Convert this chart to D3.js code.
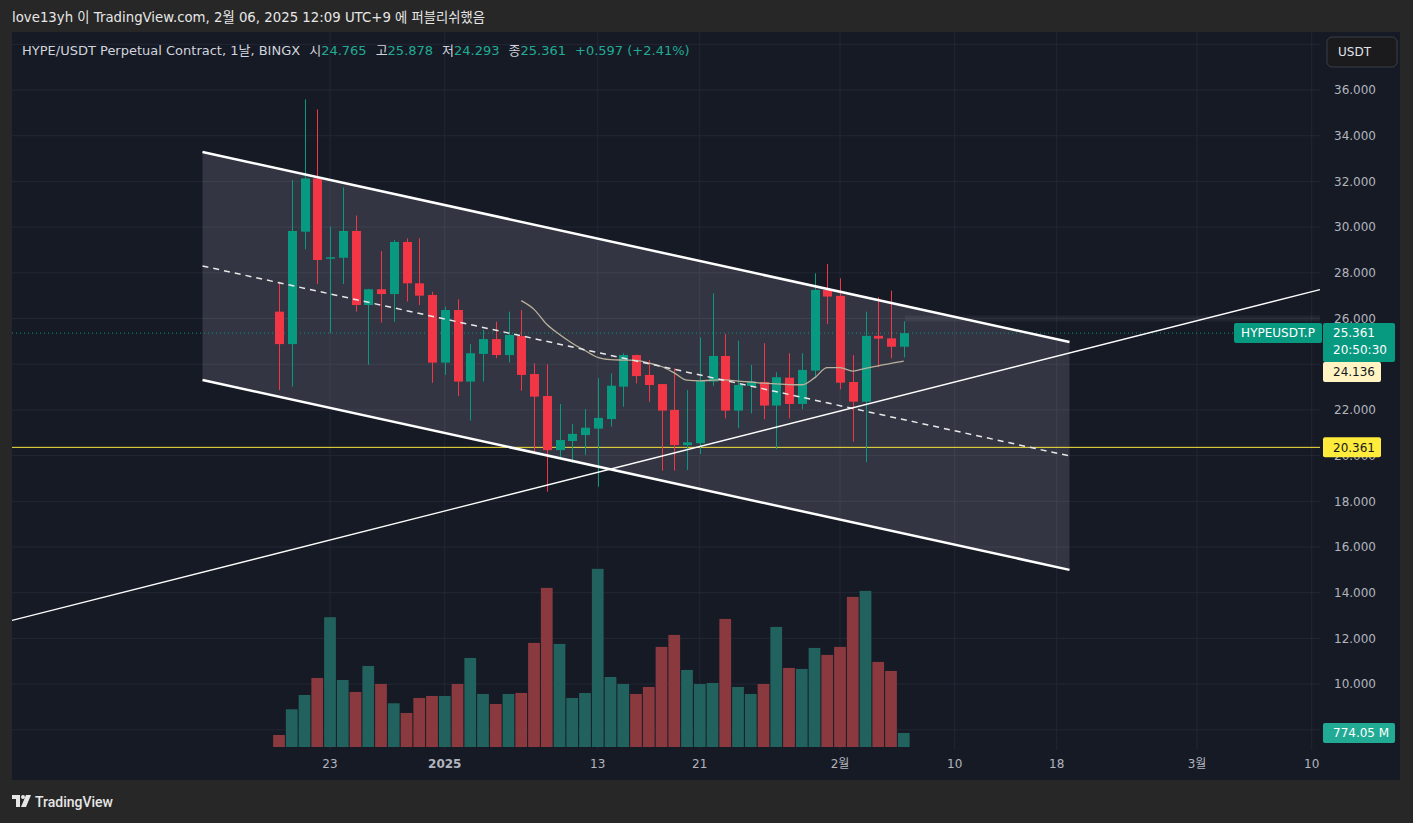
<!DOCTYPE html>
<html>
<head>
<meta charset="utf-8">
<script src="https://cdn.jsdelivr.net/npm/d3@7"></script>
<style>
  html, body { margin: 0; padding: 0; background: #272727; }
  svg { display: block; font-family: "DejaVu Sans", "Noto Sans CJK KR", sans-serif; }
</style>
</head>
<body>
<div id="chart"></div>
<script>
// daily candles, HYPE/USDT perp (BINGX)
const dates = ["2024-12-19","2024-12-20","2024-12-21","2024-12-22","2024-12-23","2024-12-24","2024-12-25","2024-12-26","2024-12-27","2024-12-28",
  "2024-12-29","2024-12-30","2024-12-31","2025-01-01","2025-01-02","2025-01-03","2025-01-04","2025-01-05","2025-01-06","2025-01-07",
  "2025-01-08","2025-01-09","2025-01-10","2025-01-11","2025-01-12","2025-01-13","2025-01-14","2025-01-15","2025-01-16","2025-01-17",
  "2025-01-18","2025-01-19","2025-01-20","2025-01-21","2025-01-22","2025-01-23","2025-01-24","2025-01-25","2025-01-26","2025-01-27",
  "2025-01-28","2025-01-29","2025-01-30","2025-01-31","2025-02-01","2025-02-02","2025-02-03","2025-02-04","2025-02-05","2025-02-06"];
const opens = [26.30,24.88,29.80,32.13,28.62,28.66,29.83,26.59,27.28,27.07, 29.35,27.54,27.03,24.07,26.37,23.24,24.45,25.10,24.40,25.23,
  23.57,22.61,20.24,20.64,20.90,21.18,21.60,23.02,24.40,23.53, 23.13,22.00,20.46,20.54,23.24,24.36,21.97,23.05,23.22,22.19,
  23.41,22.26,23.72,27.25,26.99,23.22,22.36,25.24,25.13,24.765];
const highs = [27.61,32.06,35.59,35.15,30.02,31.74,30.51,27.30,28.95,29.44, 29.51,29.51,27.17,26.52,26.84,24.88,25.50,25.86,26.30,26.37,
  24.04,23.99,22.26,21.38,22.04,23.38,23.60,24.48,24.42,24.18, 23.13,23.82,22.87,25.17,27.10,25.32,25.03,23.97,24.92,23.65,
  24.48,24.48,27.98,28.39,27.76,24.40,26.30,26.93,27.22,25.878];
const lows = [22.87,23.02,29.03,27.51,25.35,27.51,26.30,23.97,25.82,25.86, 26.74,26.59,23.19,23.53,22.61,21.53,23.24,24.26,24.07,22.84,
  20.17,18.42,19.88,19.69,20.03,18.64,21.27,22.14,23.16,22.36, 19.34,19.34,19.37,20.07,23.05,21.63,21.20,21.85,21.59,20.28,
  21.63,22.03,23.38,25.76,22.90,20.61,19.71,23.87,24.26,24.293];
const closes = [24.88,29.83,32.13,28.56,28.68,29.83,26.59,27.28,27.07,29.35, 27.54,27.00,24.07,26.37,23.24,24.48,25.10,24.40,25.28,23.53,
  22.58,20.24,20.68,20.95,21.22,21.65,23.06,24.40,23.48,23.09, 21.97,20.46,20.58,23.26,24.36,21.97,23.09,23.24,22.19,23.43,
  22.26,23.75,27.25,26.96,23.19,22.36,25.24,25.12,24.765,25.361];
// volume in millions
const volumes = [663,2084,2875,3815,7171,3704,3041,4478,3483,2416, 1880,2709,2820,2820,3483,4921,2930,2377,2930,2986,
  5750,8791,5695,2709,2986,9842,3870,3483,2930,3317, 5529,6192,4257,3483,3539,7077,3317,2930,3483,6635,
  4368,4313,5474,5087,5529,8294,8625,4700,4202,774.05];
// moving average line (from 2025-01-07)
const maStart = 19;
const maValues = [26.78,26.40,25.75,25.30,24.92,24.60,24.30,24.20,24.18,24.17, 24.05,23.90,23.62,23.30,23.27,23.30,23.31,23.26,23.22,23.17,
  23.14,23.11,23.10,23.40,23.85,23.85,23.70,23.82,23.93,24.04, 24.136];

// drawings: [date, price]
const channelUpper = [["2024-12-13", 33.29], ["2025-02-19", 24.97]];
const channelLower = [["2024-12-13", 23.31], ["2025-02-19", 15.00]];
const trendLine = [["2025-01-13", 19.27], ["2025-02-18", 24.35]];
const levelPrice = 20.361;
const lastPrice = 25.361;
const maLast = 24.136;
const lastVolumeLabel = "774.05 M";
const changeText = "+0.597 (+2.41%)";

const priceTicks = [8,10,12,14,16,18,20,22,24,26,28,30,32,34,36,38];
const tickDates = ["2024-12-23","2025-01-01","2025-01-13","2025-01-21","2025-02-01","2025-02-10","2025-02-18","2025-03-01","2025-03-10"];
const tickLabels = ["23","2025","13","21","2월","10","18","3월","10"];

const W = 1413, H = 823;
const plot = { left: 12, right: 1320, top: 32, bottom: 750 };
const volBottom = 747;

const parse = d3.utcParse("%Y-%m-%d");
const data = dates.map((d, i) => ({
  date: parse(d), o: opens[i], h: highs[i], l: lows[i], c: closes[i], v: volumes[i]
}));

const x = d3.scaleUtc()
  .domain([parse("2024-12-19"), parse("2025-02-06")])
  .range([279, 279 + 49 * 12.75]);
const dayW = 12.75;
const y = d3.scaleLinear().domain([10, 36]).range([684.1, 90]);
const yVol = d3.scaleLinear().domain([0, 10000]).range([volBottom, volBottom - 181]);

const up = "#089981", down = "#f23645";
const volUp = "#22625e", volDown = "#8a3a3f";

const svg = d3.select("#chart").append("svg")
  .attr("width", W).attr("height", H);

svg.append("rect").attr("width", W).attr("height", H).attr("fill", "#272727");

// header
svg.append("text")
  .attr("x", 12).attr("y", 22)
  .attr("fill", "#e6e6e6").style("font-size", "13.3px")
  .text("love13yh 이 TradingView.com, 2월 06, 2025 12:09 UTC+9 에 퍼블리쉬했음");

// chart panel
svg.append("rect")
  .attr("x", plot.left).attr("y", plot.top)
  .attr("width", 1400 - plot.left).attr("height", 780 - plot.top)
  .attr("fill", "#161a25");

svg.append("defs").append("clipPath").attr("id", "clip")
  .append("rect").attr("x", plot.left).attr("y", plot.top)
  .attr("width", plot.right - plot.left).attr("height", plot.bottom - plot.top);

const g = svg.append("g").attr("clip-path", "url(#clip)");

// grid
g.selectAll(".hgrid").data(priceTicks).join("line")
  .attr("x1", plot.left).attr("x2", plot.right)
  .attr("y1", d => y(d)).attr("y2", d => y(d))
  .attr("stroke", "#232734").attr("stroke-width", 1);
g.selectAll(".vgrid").data(tickDates).join("line")
  .attr("x1", d => x(parse(d))).attr("x2", d => x(parse(d)))
  .attr("y1", plot.top).attr("y2", plot.bottom)
  .attr("stroke", "#232734").attr("stroke-width", 1);

// volume bars
g.selectAll(".vol").data(data).join("rect")
  .attr("x", d => x(d.date) - dayW / 2 + 0.5)
  .attr("width", dayW - 1)
  .attr("y", d => yVol(d.v))
  .attr("height", d => volBottom - yVol(d.v))
  .attr("fill", d => d.c >= d.o ? volUp : volDown);

// channel fill
const pt = p => [x(parse(p[0])), y(p[1])];
const u0 = pt(channelUpper[0]), u1 = pt(channelUpper[1]);
const l0 = pt(channelLower[0]), l1 = pt(channelLower[1]);
g.append("path")
  .attr("d", d3.line()([u0, u1, l1, l0]) + "Z")
  .attr("fill", "rgba(205,208,220,0.16)");

// faint band near top right
g.append("rect")
  .attr("x", 905).attr("width", plot.right - 905)
  .attr("y", y(26) - 3).attr("height", 6)
  .attr("fill", "rgba(255,255,255,0.05)");

// level line
g.append("line")
  .attr("x1", plot.left).attr("x2", plot.right)
  .attr("y1", y(levelPrice)).attr("y2", y(levelPrice))
  .attr("stroke", "#f7e43c").attr("stroke-width", 1);

// last price dotted line
g.append("line")
  .attr("x1", plot.left).attr("x2", plot.right)
  .attr("y1", y(lastPrice)).attr("y2", y(lastPrice))
  .attr("stroke", up).attr("stroke-width", 1).attr("stroke-dasharray", "1,3");

// candles
const cg = g.selectAll(".candle").data(data).join("g");
cg.append("line")
  .attr("x1", d => Math.round(x(d.date)) + 0.5).attr("x2", d => Math.round(x(d.date)) + 0.5)
  .attr("y1", d => y(d.h)).attr("y2", d => y(d.l))
  .attr("stroke", d => d.c >= d.o ? up : down).attr("stroke-width", 1);
cg.append("rect")
  .attr("x", d => Math.round(x(d.date)) - 4)
  .attr("width", 9)
  .attr("y", d => y(Math.max(d.o, d.c)))
  .attr("height", d => Math.max(1.5, Math.abs(y(d.o) - y(d.c))))
  .attr("fill", d => d.c >= d.o ? up : down);

// moving average
const maData = maValues.map((v, i) => [x(data[maStart + i].date), y(v)]);
g.append("path")
  .attr("d", d3.line().curve(d3.curveMonotoneX)(maData))
  .attr("fill", "none").attr("stroke", "#b9b19b").attr("stroke-width", 1.3);

// channel lines
g.append("line").attr("x1", u0[0]).attr("y1", u0[1]).attr("x2", u1[0]).attr("y2", u1[1])
  .attr("stroke", "#ffffff").attr("stroke-width", 2.5);
g.append("line").attr("x1", l0[0]).attr("y1", l0[1]).attr("x2", l1[0]).attr("y2", l1[1])
  .attr("stroke", "#ffffff").attr("stroke-width", 2.5);
const m0 = [u0[0], (u0[1] + l0[1]) / 2], m1 = [u1[0], (u1[1] + l1[1]) / 2];
g.append("line").attr("x1", m0[0]).attr("y1", m0[1]).attr("x2", m1[0]).attr("y2", m1[1])
  .attr("stroke", "#e8e8e8").attr("stroke-width", 1.5).attr("stroke-dasharray", "6,5");

// extended trend line
const t0 = pt(trendLine[0]), t1 = pt(trendLine[1]);
const slope = (t1[1] - t0[1]) / (t1[0] - t0[0]);
g.append("line")
  .attr("x1", plot.left).attr("y1", t0[1] + (plot.left - t0[0]) * slope)
  .attr("x2", plot.right).attr("y2", t0[1] + (plot.right - t0[0]) * slope)
  .attr("stroke", "#ffffff").attr("stroke-width", 1.3);

// legend line
const leg = svg.append("text").attr("x", 22).attr("y", 55).style("font-size", "13px").attr("fill", "#d1d4dc");
leg.append("tspan").text("HYPE/USDT Perpetual Contract, 1날, BINGX");
[["시", opens[49]], ["고", highs[49]], ["저", lows[49]], ["종", closes[49]]].forEach(([k, v]) => {
  leg.append("tspan").attr("dx", 9).attr("fill", "#d1d4dc").text(k);
  leg.append("tspan").attr("fill", "#22ab94").text(v.toFixed(3));
});
leg.append("tspan").attr("dx", 9).attr("fill", "#22ab94").text(changeText);

// price axis labels (those under the last-price / MA tags are hidden, as on the chart)
const yl = y(lastPrice);
const maTagTop = Math.max(y(maLast) - 10, yl + 29);
svg.selectAll(".plabel")
  .data(priceTicks.filter(d => d >= 10 && d <= 36 && !(y(d) > yl - 8 && y(d) < maTagTop + 22)))
  .join("text")
  .attr("x", 1376).attr("y", d => y(d)).attr("dy", "0.35em")
  .attr("text-anchor", "end").attr("fill", "#b2b5be").style("font-size", "12px")
  .text(d => d3.format(".3f")(d));

// USDT button
svg.append("rect").attr("x", 1327).attr("y", 37).attr("width", 70).attr("height", 30)
  .attr("rx", 5).attr("fill", "#1b1b1d").attr("stroke", "#3b3e46");
svg.append("text").attr("x", 1338).attr("y", 52).attr("dy", "0.35em")
  .attr("fill", "#e0e3eb").style("font-size", "12px").text("USDT");

// time axis labels
svg.selectAll(".tlabel").data(tickDates).join("text")
  .attr("x", d => x(parse(d))).attr("y", 764).attr("dy", "0.35em")
  .attr("text-anchor", "middle").attr("fill", "#b2b5be").style("font-size", "12px")
  .style("font-weight", (d, i) => tickLabels[i] === "2025" ? "bold" : "normal")
  .text((d, i) => tickLabels[i]);

// price labels on axis
function tag(x0, yc, w, h, fill, lines, color) {
  svg.append("rect").attr("x", x0).attr("y", yc).attr("width", w).attr("height", h)
    .attr("rx", 2).attr("fill", fill);
  lines.forEach((t, i) => {
    svg.append("text").attr("x", x0 + 10).attr("y", yc + 10 + i * 17).attr("dy", "0.35em")
      .attr("fill", color).style("font-size", "12px").text(t);
  });
}
svg.append("rect").attr("x", 1234).attr("y", yl - 10).attr("width", 88).attr("height", 20)
  .attr("rx", 2).attr("fill", up);
svg.append("text").attr("x", 1278).attr("y", yl).attr("dy", "0.35em").attr("text-anchor", "middle")
  .attr("fill", "#ffffff").style("font-size", "12px").text("HYPEUSDT.P");
tag(1323, yl - 10, 72, 39, up, [lastPrice.toFixed(3), "20:50:30"], "#ffffff");
tag(1323, maTagTop, 58, 20, "#fff4c2", [maLast.toFixed(3)], "#131722");
tag(1323, y(levelPrice) - 10, 58, 20, "#ffeb3b", [levelPrice.toFixed(3)], "#131722");
tag(1323, yVol(volumes[49]) - 10, 72, 20, "#22ab94", [lastVolumeLabel], "#ffffff");

// TradingView logo
const logo = svg.append("g").attr("transform", "translate(12,795)");
logo.append("path").attr("d", "M0 0 H8 V12 H4 V4 H0 Z").attr("fill", "#e6e6e6");
logo.append("circle").attr("cx", 11).attr("cy", 2).attr("r", 2).attr("fill", "#e6e6e6");
logo.append("path").attr("d", "M14 0 H19 L14 12 H9 Z").attr("fill", "#e6e6e6");
svg.append("text").attr("x", 35).attr("y", 807).attr("fill", "#e6e6e6")
  .style("font-family", "Roboto, sans-serif")
  .style("font-size", "14px").style("font-weight", "500").text("TradingView");
</script>
</body>
</html>
